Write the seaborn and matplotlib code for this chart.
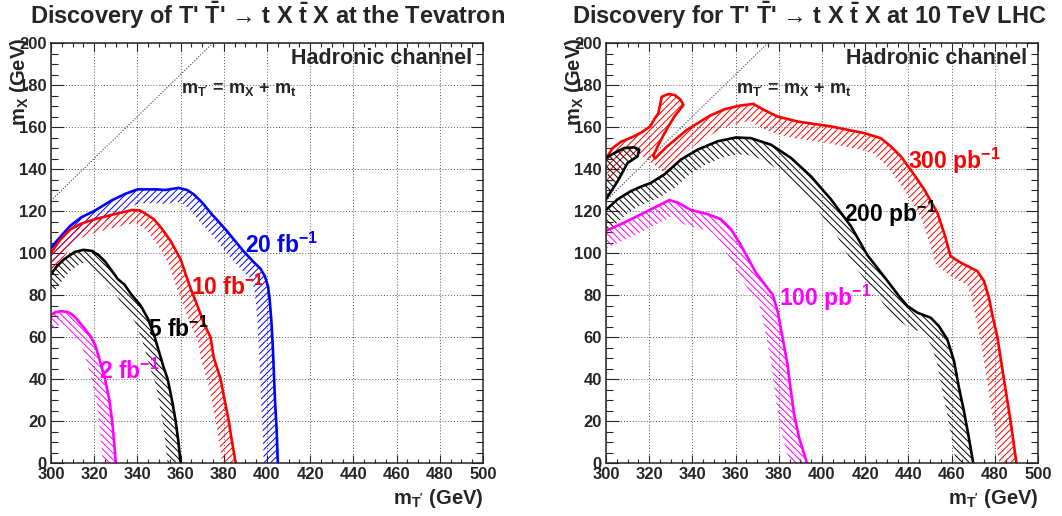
import numpy as np
import matplotlib
matplotlib.use('Agg')
import matplotlib.pyplot as plt
import seaborn as sns

# Contours (m_T' in GeV, m_X in GeV)
# Tevatron, hadronic channel
tev_20fb_x = [300, 305, 309, 314, 320, 328, 334, 340, 349, 353, 359, 363, 366, 370, 374, 381, 389, 394, 397, 399, 400.5, 401.3, 402, 402.7, 403.7, 404.5, 405]
tev_20fb_y = [102.5, 108.5, 113, 117, 120, 125, 128, 130.3, 130.3, 130, 131, 130, 128, 124, 119, 111, 101, 95.5, 92.5, 89, 84, 77, 68, 55, 30, 15, 0]

tev_10fb_x = [300, 304, 309, 314, 320, 329, 337.7, 341, 343, 347.7, 351, 355.4, 360, 362.3, 365, 367, 371, 373.8, 375.4, 378.5, 380, 382.3, 383.5, 385.5]
tev_10fb_y = [100, 106, 111.3, 114, 116, 118.4, 120.5, 120.3, 119.2, 116, 112, 105.7, 97, 90, 82, 77, 66, 60, 50, 40, 32, 20, 12, 0]

tev_5fb_x = [300, 303, 306, 311, 315, 319, 322, 325, 331, 334, 337, 341.5, 345, 348, 350, 352, 354, 356, 357.7, 359, 360]
tev_5fb_y = [90, 94, 97, 100.5, 101.5, 101, 99, 96, 87.5, 85, 80.5, 75, 68.5, 60, 53, 46, 40, 30, 20, 10, 0]

tev_2fb_x = [300, 302, 305, 308, 310, 312, 315.5, 318.5, 320.5, 322, 325, 327, 328.3, 329.2, 330]
tev_2fb_y = [70.5, 71.8, 72.3, 71.8, 70.5, 68.5, 64, 60, 56, 51, 40, 30, 20, 10, 0]

# LHC 10 TeV, hadronic channel
lhc_300pb_x = [300, 303.1, 307, 312.6, 316.5, 320.4, 322.5, 324.2, 325.8, 328.9, 331.9, 334.5, 335.8, 334,
               331.9, 329, 326.5, 324, 321.9, 322.7, 328.1, 337.4, 348.1, 355, 362, 368.2, 373.2, 379.4,
               388.7, 404, 419.5, 427.2, 431.8, 436.5, 441, 447.3, 453.4, 457, 459.5, 464.2, 471.9, 475,
               477.3, 478.8, 481.2, 484.2, 487.3, 490]
lhc_300pb_y = [145, 150, 153, 155.4, 157.5, 160.2, 164, 166.5, 174.4, 175.7, 175.2, 173, 170.5, 168,
               165.4, 160.5, 155.9, 151, 146.3, 145, 150.6, 158.6, 165.4, 168.5, 170.2, 171, 168.1, 165,
               162.6, 160.3, 157.1, 154.7, 150.8, 146, 139.7, 130.3, 119.2, 108, 98.5, 95.4, 91.4, 86.7,
               78.7, 70.8, 60, 40, 20, 0]

lhc_200pb_x = [300, 305.4, 311.6, 316, 320.8, 327, 334.7, 342.4, 351.7, 360.1, 367, 376.3, 385.6, 394.8, 404.1,
               413.3, 421, 430.3, 436, 439.5, 444.1, 450.3, 454.1, 458, 461.1, 463.4, 465.7, 468, 470]
lhc_200pb_y = [120.5, 125.6, 129.5, 131.5, 133.4, 137.4, 144.5, 149.2, 153.2, 155, 154.7, 151.6, 145.3, 136.6, 125.6,
               112.9, 99, 86.7, 79, 74.8, 71.6, 69.2, 65.2, 58.9, 48.6, 35.9, 24.8, 12, 0]

lhc_200pb_lobe_x = [300, 303.9, 308.5, 313.1, 315.4, 314.6, 310, 305.4, 300]
lhc_200pb_lobe_y = [145.3, 147.6, 150, 150.3, 149.2, 146, 142.9, 134.2, 125.6]

lhc_100pb_x = [300, 308.5, 317.7, 323.9, 329.3, 333.2, 339.3, 347, 353.2, 357.8, 361.7, 365.5, 369.4, 374,
               377.1, 379.4, 381.7, 384, 385.6, 387.1, 389.4, 391.5, 393]
lhc_100pb_y = [110.6, 114.5, 119.2, 122.4, 125.2, 124, 120.5, 118.5, 116.1, 111.4, 105, 98, 90.6, 84.3,
               80.3, 72.4, 60, 47, 34.3, 23.2, 12, 5, 0]

m_top = 175

sns.set_style('ticks')
plt.rcParams.update({
    'font.family': ['Liberation Sans', 'DejaVu Sans'],
    'font.weight': 'bold',
    'axes.labelweight': 'bold',
    'mathtext.fontset': 'custom',
    'mathtext.rm': 'Liberation Sans:bold',
    'mathtext.it': 'Liberation Sans:bold',
    'mathtext.bf': 'Liberation Sans:bold',
    'mathtext.sf': 'Liberation Sans:bold',
    'mathtext.default': 'regular',
    'hatch.linewidth': 0.7,
})

BLUE, RED, BLACK, MAGENTA = '#0000ff', '#ff0000', '#000000', '#ff00ff'
FWD, BACK = '/////', '\\' * 5


def draw_band(ax, xs, ys, color, hatch, width):
    # contour line with a hatched strip on its inner side (ROOT style)
    pts = ax.transData.transform(np.column_stack([xs, ys]))
    d = np.gradient(pts, axis=0)
    d /= np.linalg.norm(d, axis=1, keepdims=True)
    # stretch both ends a bit so the strip runs past the frame
    pts = np.vstack([pts[0] - d[0] * width, pts, pts[-1] + d[-1] * width])
    d = np.vstack([d[0], d, d[-1]])
    normal = np.column_stack([d[:, 1], -d[:, 0]])
    inner = pts + normal * width
    poly = ax.transData.inverted().transform(np.vstack([pts, inner[::-1]]))
    ax.fill(poly[:, 0], poly[:, 1], facecolor='none', edgecolor=color,
            hatch=hatch, linewidth=0)
    sns.lineplot(x=xs, y=ys, sort=False, estimator=None, color=color,
                 linewidth=1.9, solid_joinstyle='round', ax=ax)


def style_axes(ax):
    ax.set_xlim(300, 500)
    ax.set_ylim(0, 200)
    ax.set_xticks(np.arange(300, 501, 20))
    ax.set_yticks(np.arange(0, 201, 20))
    ax.set_xticks(np.arange(300, 501, 5), minor=True)
    ax.set_yticks(np.arange(0, 201, 5), minor=True)
    ax.grid(True, which='major', color='0.35', linestyle=(0, (1, 2)), linewidth=0.7)
    ax.tick_params(which='both', direction='in', top=True, right=True, width=0.8,
                   labelsize=12, pad=3)
    ax.tick_params(axis='x', which='major', length=6)
    ax.tick_params(axis='x', which='minor', length=3)
    ax.tick_params(axis='y', which='major', length=9)
    ax.tick_params(axis='y', which='minor', length=5)
    for s in ax.spines.values():
        s.set_linewidth(1.1)
    for lab in ax.get_xticklabels() + ax.get_yticklabels():
        lab.set_fontweight('bold')
    ax.set_xlabel("m$_{T'}$ (GeV)", fontsize=14.5, fontweight='bold', loc='right')
    ax.xaxis.set_label_coords(1.0, -0.056)
    ax.set_ylabel("m$_{X}$ (GeV)", fontsize=14.5, fontweight='bold', loc='top')
    ax.yaxis.set_label_coords(-0.046, 1.012)
    diag_x = np.array([300, 375])
    ax.plot(diag_x, diag_x - m_top, color='0.25', linestyle=(0, (1, 1.5)), linewidth=0.8)
    ax.text(360, 176, "m$_{T'}$ = m$_{X}$ + m$_{t}$", fontsize=13, va='baseline')
    ax.text(495, 190, "Hadronic channel", fontsize=15.5, ha='right', va='baseline')


fig = plt.figure(figsize=(10.62, 5.16), dpi=100)
ax1 = fig.add_axes([0.04802, 0.10271, 0.40678, 0.81395])
ax2 = fig.add_axes([0.57062, 0.10271, 0.40678, 0.81395])

for ax in (ax1, ax2):
    style_axes(ax)

# Tevatron panel
draw_band(ax1, tev_20fb_x, tev_20fb_y, BLUE, FWD, 14)
draw_band(ax1, tev_10fb_x, tev_10fb_y, RED, FWD, 13)
draw_band(ax1, tev_5fb_x, tev_5fb_y, BLACK, BACK, 13)
draw_band(ax1, tev_2fb_x, tev_2fb_y, MAGENTA, BACK, 13)
ax1.text(390, 100, "20 fb$^{-1}$", color=BLUE, fontsize=16.5, va='baseline')
ax1.text(365, 80, "10 fb$^{-1}$", color=RED, fontsize=16.5, va='baseline')
ax1.text(345, 60, "5 fb$^{-1}$", color=BLACK, fontsize=16.5, va='baseline')
ax1.text(322, 40, "2 fb$^{-1}$", color=MAGENTA, fontsize=16.5, va='baseline')

# LHC panel
draw_band(ax2, lhc_300pb_x, lhc_300pb_y, RED, FWD, 17)
draw_band(ax2, lhc_200pb_x, lhc_200pb_y, BLACK, BACK, 17)
draw_band(ax2, lhc_200pb_lobe_x, lhc_200pb_lobe_y, BLACK, BACK, 12)
draw_band(ax2, lhc_100pb_x, lhc_100pb_y, MAGENTA, BACK, 16)
ax2.text(440, 140, "300 pb$^{-1}$", color=RED, fontsize=16.5, va='baseline')
ax2.text(410, 115, "200 pb$^{-1}$", color=BLACK, fontsize=16.5, va='baseline')
ax2.text(380, 75, "100 pb$^{-1}$", color=MAGENTA, fontsize=16.5, va='baseline')

fig.text(0.2519, 0.954, r"Discovery of T' $\bar{\mathrm{T}}$' → t X $\bar{\mathrm{t}}$ X at the Tevatron",
         fontsize=17, ha='center', va='baseline')
fig.text(0.7620, 0.954, r"Discovery for T' $\bar{\mathrm{T}}$' → t X $\bar{\mathrm{t}}$ X at 10 TeV LHC",
         fontsize=17, ha='center', va='baseline')

fig.savefig('out.png', dpi=100)
